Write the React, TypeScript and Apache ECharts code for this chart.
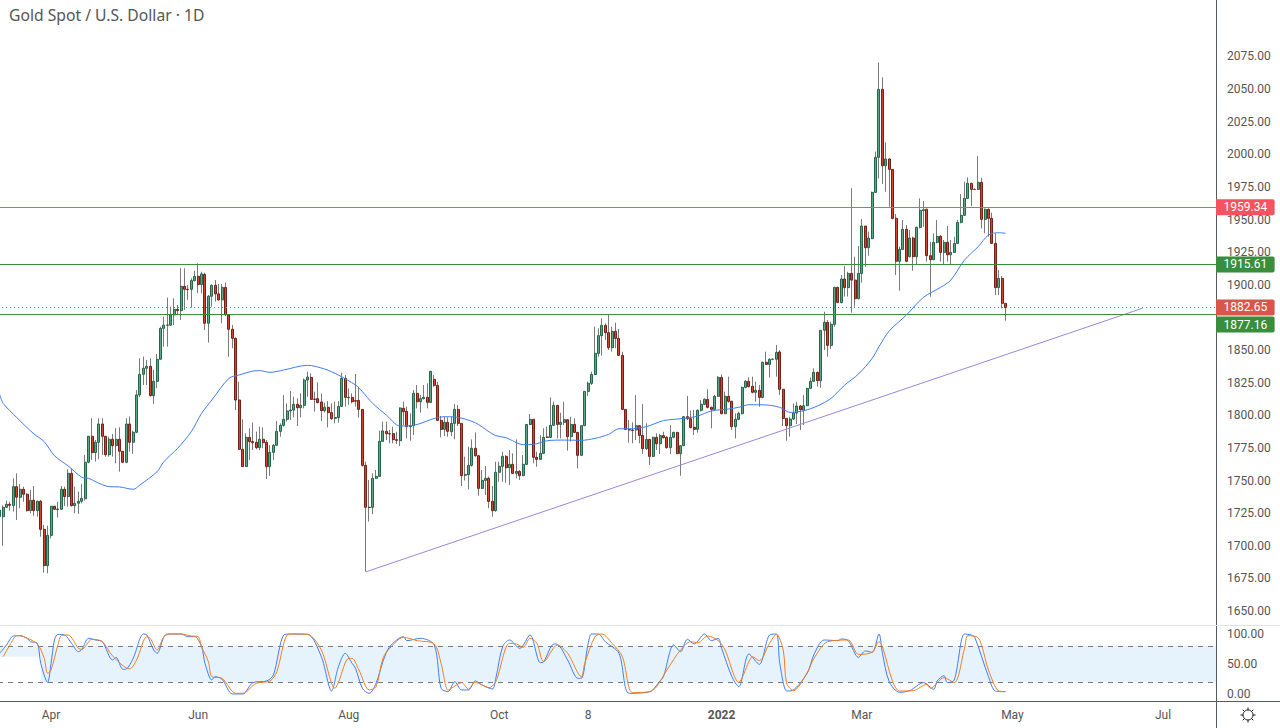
import React, { useEffect, useRef } from "react";
import * as echarts from "echarts";

const TITLE = "Gold Spot / U.S. Dollar · 1D";
const BAR_SLOTS = 356;
const BLEED = 20;

const opens = [
1722.3,1722.3,1729.5,1731.8,1730.8,1745.3,1737.2,1743.3,1739.5,1727,
1734.9,1727,1734.1,1712.6,1684.8,1708,1730.3,1727.7,1728,1743.3,
1737.7,1755.5,1730.8,1732.6,1734.1,1736.1,1764,1783.9,1771.4,1779.3,
1793.3,1783.9,1769.8,1781.6,1776.7,1781.6,1772.4,1764,1793.3,1779.3,
1787,1815.6,1831.4,1836,1837.5,1815,1826,1842.9,1866.6,1869,
1869,1876.9,1881.2,1880.2,1898.8,1896.5,1896.5,1903.2,1906.5,1900.1,
1908,1870.5,1891.2,1899.6,1893,1888.4,1898,1876.9,1865.9,1859,
1811.7,1773.9,1760.7,1783.1,1779.8,1779.3,1775.2,1781.6,1779.3,1760.6,
1771.6,1777,1787.7,1792.3,1796.9,1803.3,1804,1808.4,1805.8,1807.6,
1827,1829,1812.4,1812.7,1810.2,1803.5,1806.1,1802,1797.6,1798.2,
1806.8,1828.3,1813.7,1813.7,1811.2,1811.4,1804.5,1761.6,1729.5,1729.5,
1751.7,1753.2,1780,1787.7,1785.9,1785.9,1781.3,1780.5,1805.3,1803,
1791.3,1792,1816.8,1810.4,1812.7,1813.7,1809.9,1827.5,1822.9,1796.1,
1789.2,1794.6,1787.4,1793.8,1804.5,1793.8,1754,1754.5,1761.6,1774.7,
1769,1744,1750.1,1751.7,1734.1,1726.9,1756.3,1760.9,1768.5,1759.8,
1762.4,1755.5,1757,1753.7,1762.4,1793,1796.9,1767.8,1766.2,1770.8,
1783.4,1783.1,1792.3,1807.6,1793,1794.6,1796.6,1783.6,1793,1786.9,
1769.3,1792,1818.3,1824.5,1831.3,1847.4,1861,1868.9,1863.3,1851.8,
1864.3,1858.9,1845.9,1804.5,1789,1788.7,1788.7,1792,1784.6,1774.4,
1781.5,1768.5,1783.1,1778.2,1784.4,1783.1,1775.2,1783.1,1786.9,1770.6,
1776.7,1798.9,1797.4,1790.8,1789.2,1803.8,1808.4,1812.2,1806.1,1804.5,
1814.5,1829,1801.2,1814.5,1810.7,1791.3,1796.9,1801.2,1821.4,1826,
1822.2,1817.6,1819.1,1813.7,1840.6,1839,1842.9,1842.9,1848.5,1819.9,
1797.6,1792,1797.1,1801.7,1807.1,1804,1807.3,1820.6,1826,1832.9,
1826.5,1865.1,1871.2,1853.6,1869.7,1898,1886.3,1904.4,1897.8,1908.7,
1903.6,1889.3,1908.7,1945,1928.4,1935.3,1970.8,1997.6,2049.7,1991.2,
1996.4,1988.4,1950.9,1918,1927.1,1942.5,1921.5,1935.8,1921.5,1944,
1956.8,1957.8,1922.3,1919.2,1932.5,1937.1,1924.8,1932.5,1923,1924.8,
1931.7,1947.8,1953.2,1966.2,1977.7,1973.1,1973.1,1978.5,1950.1,1957.8,
1950.9,1931.7,1897.8,1904.9,1885.8,
];

const closes = [
1727.4,1729.5,1731.8,1731,1745.3,1737.2,1743.3,1739.5,1727,1734.9,
1727,1734.1,1712.6,1684.8,1708,1730.3,1728,1728.2,1743.3,1737.7,
1755.5,1730.8,1732.6,1734.1,1736.4,1764,1783.9,1771.4,1779.3,1793.3,
1783.9,1769.8,1781.6,1776.7,1781.6,1772.4,1764,1793.3,1779.3,1787,
1815.6,1831.4,1836,1837.5,1815,1826,1842.9,1866.6,1869,1869.2,
1876.9,1881.2,1880.2,1898.8,1896.5,1896.3,1903.2,1906.5,1900.1,1908.3,
1870.5,1891.2,1899.6,1893,1888.4,1898,1876.9,1865.9,1859,1811.7,
1773.9,1760.7,1783.1,1779.8,1779,1775.2,1781.6,1779,1760.6,1771.6,
1777,1787.7,1792.3,1796.9,1803.3,1804,1808.4,1805.8,1807.6,1827,
1829.3,1812.2,1812.2,1809.7,1803.5,1806.1,1802,1797.4,1798.2,1806.8,
1828.3,1813.7,1813.5,1810.4,1810.8,1804.5,1761.6,1729.5,1729.3,1751.7,
1753.2,1780,1788,1785.9,1785.7,1781.3,1780.8,1805.6,1802.7,1791.3,
1792,1816.8,1810.4,1812.7,1813.7,1809.9,1833.7,1822.9,1796.1,1789.2,
1794.6,1787.7,1793.8,1804.5,1793.8,1753.7,1754.7,1761.6,1774.7,1769,
1744,1750.1,1751.7,1734,1726.9,1756.3,1760.9,1768.5,1759.8,1762.4,
1755.5,1757,1753.7,1762.4,1793,1796.9,1767.8,1766.2,1770.8,1783.1,
1783.1,1792.3,1807.6,1793,1794.6,1796.6,1783.6,1793,1786.9,1769.3,
1792,1818.3,1824.5,1831.3,1847.4,1861,1868.9,1863.3,1851.8,1864.3,
1858.9,1845.9,1804.5,1789.2,1788.7,1788.4,1792,1784.6,1774.4,1781.5,
1768.5,1783.1,1778.2,1784.4,1782.8,1775.2,1783.1,1786.9,1770.6,1776.7,
1798.9,1797.4,1790.5,1789.2,1803.8,1808.4,1812.2,1806.1,1804.5,1814.5,
1829,1801.2,1814.5,1810.7,1791.3,1796.9,1801.5,1821.4,1826,1821.9,
1817.6,1819.1,1813.7,1840.6,1839,1842.9,1843,1848.2,1819.9,1797.6,
1792,1797.1,1801.7,1807.1,1804.3,1807.3,1820.6,1826,1832.9,1826.5,
1865.1,1871.2,1853.6,1869.7,1898,1886.5,1904.4,1897.8,1908.7,1903.6,
1889.3,1908.7,1945,1928.4,1935.8,1970.8,1997.6,2049.7,1991.2,1996.4,
1988.4,1950.9,1918,1927.1,1942.5,1918,1935.8,1921.5,1944,1957,
1957.5,1922.3,1919.2,1932.5,1937.1,1924.8,1932.5,1923,1924.8,1931.7,
1947.8,1953.2,1966.2,1977.7,1973.1,1973,1978.5,1950.1,1957.8,1950.9,
1931.7,1897.8,1904.9,1885.8,1882.4,
];

const lows = [
1721,1700,1729,1727,1726.2,1719.8,1728.7,1733.8,1726.2,1724.9,
1722.9,1722.3,1707,1679.4,1678.9,1705.7,1727.4,1721.6,1727.4,1730.5,
1730,1730,1724.9,1724.4,1732.6,1734.6,1763.2,1765.8,1764.5,1766.3,
1769.6,1768.3,1768.3,1768.3,1763.2,1756.8,1763.2,1763.2,1772.1,1770.4,
1786.2,1813.8,1823.2,1823.2,1814.3,1808.7,1820.7,1842.9,1852.6,1852.6,
1869,1869.2,1876.9,1873,1880.7,1888.4,1882.5,1902.4,1893.5,1893.5,
1865.4,1855.7,1883.2,1887.1,1887.8,1870.5,1876.1,1844.9,1851.3,1804,
1773.4,1760.7,1760.7,1765.8,1773.4,1773.9,1773.4,1774.7,1751.2,1753.5,
1765.7,1776.4,1783.6,1791.3,1795.1,1796.4,1798.4,1791.8,1798.4,1805.3,
1814.2,1811.7,1802.8,1809.1,1795.6,1802.2,1790.7,1796.4,1793.8,1794.3,
1806.6,1806.6,1807.9,1809.1,1806.6,1798.2,1760.6,1680.2,1718.5,1724.3,
1751.2,1753,1779.8,1781,1778.5,1778.5,1778,1776.4,1792.5,1782.3,
1780.5,1784.9,1805.3,1802,1812.2,1805.3,1809.6,1821.9,1795.6,1783.1,
1784.1,1783.6,1784.1,1781.6,1791.8,1745.8,1750,1743.3,1760.6,1768.3,
1738.4,1743.5,1738.9,1728.7,1722.3,1726.1,1749.1,1749.1,1748.3,1746.6,
1755,1751.7,1750.4,1753.5,1761.9,1792.5,1763.2,1760.6,1765.7,1770.3,
1782.6,1782.6,1791.8,1782.3,1782.3,1792.5,1772.9,1779.8,1786.2,1759.3,
1769,1791.8,1814.8,1823.2,1830.8,1844.9,1845.7,1857.7,1850,1848.7,
1851.3,1845.4,1804,1788.7,1779,1778.5,1781,1778.5,1770.3,1773.4,
1761.9,1767.8,1773.4,1770.3,1782.3,1774.4,1770.3,1782.3,1770.3,1753.7,
1776.4,1796.4,1790,1784.9,1786.7,1802.8,1807.9,1805.3,1790,1804,
1814.2,1800.7,1801,1809.7,1788.7,1782.3,1796.4,1800.7,1820.6,1821.4,
1816.8,1810.4,1806.6,1813,1838.5,1829,1842.3,1829.6,1815.5,1791.8,
1780.5,1783.6,1796.4,1793.3,1788.7,1792.5,1807.1,1820.6,1825.7,1821.9,
1821.1,1850,1844.9,1850.8,1867.9,1885.8,1885.8,1890.9,1891,1878.6,
1883.2,1888.8,1901.6,1913.9,1922.3,1935,1970.5,1981.5,1977.2,1971.3,
1959.8,1950.1,1907.5,1895.5,1926.6,1917.2,1921,1910.8,1915.6,1943.2,
1944.5,1917.7,1890.9,1919,1931.7,1917.7,1915.9,1917.7,1915.9,1924.6,
1931.2,1947,1952.7,1965.7,1960.3,1972.6,1972.6,1943.2,1939.4,1936.8,
1931.2,1892.1,1892.1,1881.9,1872.5,
];

const highs = [
1729,1731,1734.6,1733.8,1751.7,1755.5,1747.4,1745.3,1740.2,1742.8,
1745.8,1734.6,1735.1,1716,1715.4,1730.5,1730.5,1733.8,1745.8,1745.3,
1758.6,1759.4,1745.3,1741.5,1747.4,1769.6,1784.2,1797.7,1781.1,1797.7,
1797.7,1784.2,1783.6,1785.7,1790,1790.8,1772.4,1797.7,1799,1788.2,
1819.4,1843.7,1844.9,1842.4,1843.7,1834.7,1847,1867.9,1875.6,1890.1,
1883.2,1889.6,1884.5,1912.6,1912.6,1899.8,1905,1910.8,1916.4,1910,
1909.3,1892.2,1900.4,1903.7,1900.6,1900.6,1901.6,1876.9,1869.2,1859.7,
1825.8,1796.9,1786.2,1790,1794.4,1787.5,1791.3,1790.7,1781,1777.2,
1778,1795.6,1793.8,1815.5,1809.1,1818.6,1814.2,1813,1816.8,1828.3,
1833.4,1832.1,1818.1,1825.2,1816.8,1809.6,1810.9,1809.1,1810.4,1810.9,
1832.6,1830.8,1820.6,1816.8,1831.6,1821.9,1804.5,1764.4,1750.4,1755.5,
1758.1,1788.2,1795.1,1795.1,1788.7,1791.3,1787.4,1806.1,1810.4,1806.6,
1801.5,1819.3,1823.2,1815.5,1823.2,1824.5,1833.9,1830.8,1825.7,1799.4,
1798.9,1798.4,1798.9,1808.6,1807.9,1793.8,1768.3,1775.9,1781.5,1786.9,
1769.5,1758.1,1761.1,1753,1745.8,1764.4,1764.4,1772.1,1769.5,1773.4,
1770.8,1781.5,1758,1769.5,1793.3,1801,1796.9,1772.1,1784.9,1790,
1791.3,1813.7,1810.4,1807.9,1802,1810.4,1796.9,1798.9,1797.6,1786.9,
1792.5,1818.6,1825.7,1833.4,1867.9,1866.6,1874.3,1870.4,1876.8,1867.9,
1870.9,1866.1,1848.7,1804.5,1796.4,1794.6,1815.5,1792.5,1808.6,1793.8,
1781.5,1783.6,1786.2,1785.7,1787.4,1784.1,1792.5,1787.4,1786.9,1777.2,
1799.4,1814.8,1803.5,1804,1804.5,1811.7,1813,1819.9,1806.6,1815.5,
1830,1831.3,1818.1,1829.6,1811.2,1801.5,1802.8,1821.9,1827,1829,
1829.6,1825.7,1823.2,1841.1,1848.7,1843.6,1843.6,1853.8,1850,1819.9,
1797.6,1798.9,1809.1,1810.4,1807.9,1815.5,1821.1,1829,1836,1833.4,
1865.3,1879.4,1873,1871.7,1898.5,1898.5,1907.5,1914.4,1910,1973.9,
1921.5,1929.7,1950.4,1945,1940.7,1971.3,2002,2070.2,2058.9,2009.1,
1996.9,1988.4,1954.2,1929.2,1949.6,1945.8,1942,1936.8,1944.5,1966.2,
1964.2,1958.5,1933,1939.4,1949.6,1938.1,1934.3,1945,1934.3,1936.8,
1949.6,1969.5,1979,1982.3,1978.2,1973.9,1998.6,1982,1958.5,1958.5,
1955.2,1939.4,1911.3,1906.7,1885.8,
];

// moving average at [bar, price]
const movingAverage = [
[0,1816],[1,1809.2],[5,1798.2],[10,1785.7],[13,1779.8],[16,1769],[20,1761.2],[24,1752.5],[26,1751.7],[29,1747.9],
[32,1745.3],[35,1745.1],[39,1743.3],[41,1746.6],[46,1756.8],[48,1764.5],[52,1774.7],[56,1787.5],[59,1801.5],[62,1811.7],
[67,1828.3],[70,1830.9],[74,1833.9],[76,1834.2],[79,1832.9],[83,1834.7],[90,1838.3],[95,1835.4],[99,1830.8],[104,1823.2],
[106,1818.1],[109,1809.1],[113,1800.2],[117,1791.8],[121,1792.3],[127,1797.6],[130,1798.9],[133,1798.7],[139,1794.3],[143,1787.4],
[145,1784.4],[148,1782.8],[153,1777.5],[156,1777.7],[160,1780.5],[165,1781],[170,1780.8],[174,1782.3],[178,1785.4],[181,1789.7],
[184,1789.7],[189,1791.3],[194,1795.9],[200,1797.6],[204,1799.4],[208,1803.3],[213,1804.8],[216,1806.1],[219,1808.1],[224,1807.9],
[228,1806.1],[231,1802.2],[235,1803.5],[239,1807.1],[243,1813],[247,1823.2],[251,1831.6],[255,1843.6],[257,1852.6],[260,1864.6],
[265,1876.8],[270,1890.4],[275,1898],[278,1903.6],[282,1919],[286,1929.2],[289,1938.1],[292,1939.9],[294,1939.4],
];

const stochK = [
[0,67.8],[2,81.7],[4,96.7],[6,97.2],[8,92.8],[9,87.2],[11,84.4],[12,51.1],[14,19.4],[15,51.1],[16,90],[17,99.4],[19,98.3],[21,84.4],[23,70.5],[24,74.4],[26,92.8],[28,90],[30,87.2],[33,56.7],[34,61.1],[36,41.1],[37,41.7],[39,59.4],[42,100],[43,98.3],[45,73.3],[46,67.8],[48,95.5],[49,100],[53,100],[55,95.5],[57,95.5],[59,78.9],[60,51.1],[62,23.3],[63,28.9],[65,24.4],[68,0],[71,0],[74,18.9],[78,21.7],[80,31.7],[83,98.3],[85,100],[90,99.4],[94,62.2],[97,5],
[99,45.6],[101,67.8],[103,51.1],[104,42.8],[106,9.4],[108,1.1],[110,17.8],[112,53.9],[114,78.9],[118,95.5],[119,88.9],[123,92.8],[127,81.7],[129,9.4],[131,3.9],[133,20.5],[135,6.7],[137,6.7],[139,21.7],[141,15],[144,8.3],[145,26.1],[147,78.9],[149,90],[152,76.1],[155,98.3],[158,52.2],[159,53.9],[162,83.3],[163,82.8],[166,56.7],[169,26.1],[170,26.1],[172,84.4],[173,100],[175,100],[177,87.2],[181,67.8],[184,1.1],[190,3.9],[193,21.7],[194,28.9],[197,81.7],
[199,70.5],[201,91.1],[203,83.3],[206,100],[208,88.9],[210,92.8],[211,76.1],[214,28.9],[216,12.2],[219,66.7],[222,49.4],[225,98.3],[227,100],[228,51.1],[230,5],[231,5],[236,34.4],[238,66.1],[241,90],[245,88.9],[246,91.7],[248,88.9],[251,61.1],[253,71.7],[255,69.4],[257,100],[258,67.8],[260,20.5],[263,2.8],[266,5.6],[270,18.9],[273,7.8],[274,21.7],[276,30.5],[277,18.9],[279,23.3],[282,100],[284,98.3],[285,94.4],[289,28.9],[291,5],[294,3.9],
];

const stochD = [
[1,62.2],[3,81.7],[5,97.2],[7,95.5],[11,83.3],[13,59.4],[14,34.4],[15,40],[17,81.7],[18,97.2],[20,98.3],[23,76.1],[24,74.4],[27,91.1],[30,87.2],[33,63.3],[38,41.7],[40,56.7],[43,95.5],[44,92.8],[46,73.3],[48,95.5],[50,100],[53,100],[56,96.7],[58,95.5],[59,78.9],[61,53.9],[62,28.9],[65,26.1],[69,1.1],[71,1.1],[75,17.8],[79,21.7],[81,37.2],[84,98.3],[86,100],[90,99.4],[94,73.3],[98,9.4],
[99,19.4],[102,59.4],[103,59.4],[105,40],[108,6.7],[110,12.2],[112,59.4],[114,76.1],[118,94.4],[122,88.9],[127,83.3],[129,51.1],[131,6.7],[132,9.4],[135,18.9],[137,8.3],[139,19.4],[143,10.5],[145,20.5],[149,84.4],[151,83.3],[153,77.8],[155,92.8],[157,84.4],[159,53.9],[163,81.7],[166,67.8],[170,28.9],[171,51.1],[174,95.5],[176,100],[179,84.4],[182,62.2],[185,2.2],[190,3.9],[192,12.2],[195,40],
[199,73.3],[202,87.2],[204,85.5],[207,96.7],[210,88.9],[212,73.3],[216,19.4],[219,53.9],[220,62.2],[222,55.5],[225,84.4],[227,99.4],[229,73.3],[230,17.8],[232,5.6],[236,35.5],[238,59.4],[242,87.2],[248,90],[251,66.1],[255,69.4],[257,87.2],[258,78.9],[261,20.5],[263,5],[267,5.6],[271,16.1],[272,9.4],[276,27.2],[279,18.9],[282,76.1],[283,97.2],[286,93.8],[289,40],[292,5],[294,3.9],
];

const trendLine = [[107, 1680], [334, 1882]];

const priceTicks = [1650,1675,1700,1725,1750,1775,1800,1825,1850,1900,1925,1950,1975,2000,2025,2050,2075];
const stochTicks = [0, 50, 100];
const timeLabels: Record<number, string> = { 15: "Apr", 58: "Jun", 102: "Aug", 146: "Oct", 172: "8", 211: "2022", 252: "Mar", 296: "May", 340: "Jul" };

const levels = [
  { value: 1959.34, color: "#f7525f", tag: "#f7525f", type: "solid", shift: 0 },
  { value: 1915.61, color: "#388e3c", tag: "#388e3c", type: "solid", shift: 0 },
  { value: 1882.65, color: "#d9574a", tag: "#d9574a", type: [1, 3], shift: 0 },
  { value: 1877.16, color: "#388e3c", tag: "#388e3c", type: "solid", shift: 10 },
];

const FONT = "Roboto, 'Noto Sans', sans-serif";
const AXIS = "#555a60";
const TEXT = "#555555";

export default function App() {
  const ref = useRef<HTMLDivElement>(null);
  useEffect(() => {
    document.body.style.margin = "0";
    document.body.style.background = "#fff";
    document.body.style.overflow = "hidden";
    const chart = echarts.init(ref.current!, undefined, { renderer: "svg" });
    const slots = Array.from({ length: BAR_SLOTS }, (_, i) => String(i));
    const full = opens.map((o, i) => [o, closes[i], lows[i], highs[i]]);
    const bodies = opens.map((o, i) => [o, closes[i], Math.min(o, closes[i]), Math.max(o, closes[i])]);

    const gear: any[] = [{ type: "circle", shape: { cx: 1248, cy: 715, r: 5 }, style: { fill: "none", stroke: "#131722", lineWidth: 1 } }];
    for (let k = 0; k < 8; k++) {
      const a = (k * Math.PI) / 4;
      gear.push({
        type: "line",
        shape: { x1: 1248 + 5 * Math.cos(a), y1: 715 + 5 * Math.sin(a), x2: 1248 + 7.5 * Math.cos(a), y2: 715 + 7.5 * Math.sin(a) },
        style: { stroke: "#131722", lineWidth: 1 },
      });
    }

    chart.setOption({
      animation: false,
      backgroundColor: "#ffffff",
      title: {
        text: TITLE,
        left: 9 + BLEED,
        top: 7,
        padding: 0,
        textStyle: { fontFamily: "'Noto Sans', sans-serif", fontSize: 15.7, fontWeight: "normal", color: TEXT },
      },
      grid: [
        { left: BLEED - 2, right: 64, top: 0, height: 625 },
        { left: BLEED - 2, right: 64, top: 625, height: 76 },
      ],
      xAxis: [
        { type: "category", gridIndex: 0, data: slots, boundaryGap: true, show: false },
        {
          type: "category",
          gridIndex: 1,
          data: slots,
          boundaryGap: true,
          axisLine: { onZero: false, lineStyle: { color: AXIS, width: 1 } },
          axisTick: { show: false },
          splitLine: { show: false },
          axisLabel: {
            interval: (i: number) => timeLabels[i] !== undefined,
            formatter: (_: string, i: number) => (timeLabels[i] === "2022" ? "{b|2022}" : timeLabels[i] || ""),
            rich: { b: { fontFamily: FONT, fontSize: 12, fontWeight: "bold", color: TEXT } },
            color: TEXT,
            fontFamily: FONT,
            fontSize: 12,
            margin: 8,
          },
        },
      ],
      yAxis: [
        {
          type: "value",
          gridIndex: 0,
          position: "right",
          min: 1639.3,
          max: 2118.2,
          axisLine: { show: true, lineStyle: { color: AXIS, width: 1 } },
          axisTick: { show: false },
          splitLine: { show: false },
          axisLabel: {
            customValues: priceTicks,
            formatter: (v: number) => v.toFixed(2),
            color: TEXT,
            fontFamily: FONT,
            fontSize: 12,
            margin: 11,
            padding: [4, 0, 0, 0],
          },
        },
        {
          type: "value",
          gridIndex: 1,
          position: "right",
          min: -11.7,
          max: 115,
          axisLine: { show: true, lineStyle: { color: AXIS, width: 1 } },
          axisTick: { show: false },
          splitLine: { show: false },
          axisLabel: {
            customValues: stochTicks,
            formatter: (v: number) => v.toFixed(2),
            color: TEXT,
            fontFamily: FONT,
            fontSize: 12,
            margin: 11,
          },
        },
      ],
      series: [
        {
          type: "candlestick",
          name: "wicks",
          xAxisIndex: 0,
          yAxisIndex: 0,
          data: full,
          barWidth: 1,
          itemStyle: { color: "#7a7a7a", color0: "#7a7a7a", borderColor: "#7a7a7a", borderColor0: "#7a7a7a", borderWidth: 1 },
          markLine: {
            silent: true,
            symbol: "none",
            animation: false,
            data: levels.map((l) => ({
              yAxis: l.value,
              lineStyle: { color: l.color, type: l.type as any, width: 1 },
              label: {
                show: true,
                position: "end",
                distance: 0,
                offset: [0, l.shift],
                formatter: l.value.toFixed(2),
                backgroundColor: l.tag,
                color: "#ffffff",
                fontFamily: FONT,
                fontSize: 12,
                padding: [2, 7.5],
                borderRadius: [0, 2, 2, 0],
              },
            })),
          },
        },
        {
          type: "candlestick",
          name: "bodies",
          xAxisIndex: 0,
          yAxisIndex: 0,
          data: bodies,
          barWidth: 2.5,
          itemStyle: { color: "#5aa885", color0: "#d4452f", borderColor: "#25664b", borderColor0: "#762018", borderWidth: 1 },
        },
        {
          type: "line",
          name: "MA",
          xAxisIndex: 0,
          yAxisIndex: 0,
          data: movingAverage,
          symbol: "none",
          smooth: 0.3,
          lineStyle: { color: "#3f7cf5", width: 1 },
          z: 4,
        },
        {
          type: "line",
          name: "Trend",
          xAxisIndex: 0,
          yAxisIndex: 0,
          data: trendLine,
          symbol: "none",
          lineStyle: { color: "#9d84d8", width: 1 },
          z: 4,
        },
        {
          type: "line",
          name: "%K",
          xAxisIndex: 1,
          yAxisIndex: 1,
          data: stochK,
          symbol: "none",
          smooth: 0.3,
          lineStyle: { color: "#3f7cf5", width: 1 },
          z: 5,
          markArea: {
            silent: true,
            itemStyle: { color: "#e3f2fd", opacity: 0.9 },
            data: [
              [{ xAxis: 0, yAxis: 80 }, { xAxis: 12, yAxis: 62 }],
              [{ xAxis: 12, yAxis: 80 }, { yAxis: 20 }],
            ],
          },
          markLine: {
            silent: true,
            symbol: "none",
            animation: false,
            label: { show: false },
            lineStyle: { color: "#787b86", type: [5, 5] as any, width: 1 },
            data: [{ yAxis: 80 }, { yAxis: 20 }],
          },
        },
        {
          type: "line",
          name: "%D",
          xAxisIndex: 1,
          yAxisIndex: 1,
          data: stochD,
          symbol: "none",
          smooth: 0.3,
          lineStyle: { color: "#f57c1f", width: 1 },
          z: 6,
        },
      ],
      graphic: [
        {
          type: "group",
          x: BLEED,
          children: [
            { type: "line", shape: { x1: 0, y1: 625.5, x2: 1280, y2: 625.5 }, style: { stroke: "#e0e3eb", lineWidth: 1 }, z: 10 },
            { type: "line", shape: { x1: 1216.5, y1: 701, x2: 1216.5, y2: 728 }, style: { stroke: AXIS, lineWidth: 1 } },
            { type: "line", shape: { x1: 1216, y1: 701.5, x2: 1280, y2: 701.5 }, style: { stroke: AXIS, lineWidth: 1 } },
            { type: "group", children: gear },
          ],
        },
      ],
    });
    return () => chart.dispose();
  }, []);
  return <div ref={ref} style={{ width: 1280 + BLEED, height: 728, marginLeft: -BLEED }} />;
}
